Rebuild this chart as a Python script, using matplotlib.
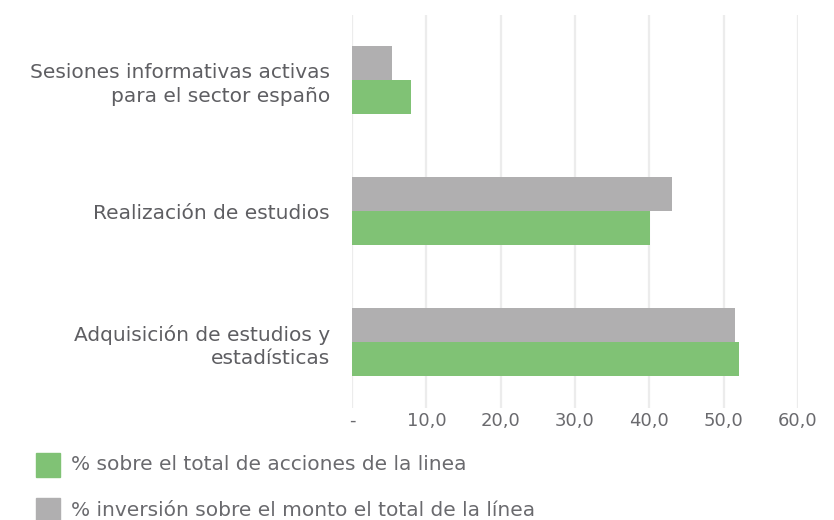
import matplotlib
matplotlib.use("Agg")
import matplotlib.pyplot as plt
import numpy as np
from matplotlib.patches import Rectangle

categories = ["Sesiones informativas activas\npara el sector españo",
              "Realización de estudios",
              "Adquisición de estudios y\nestadísticas"]
inversion = [5.4, 43.0, 51.5]
acciones = [8.0, 40.1, 52.0]
xticks = [0, 10, 20, 30, 40, 50, 60]
xticklabels = ["-", "10,0", "20,0", "30,0", "40,0", "50,0", "60,0"]
legend_labels = ["% sobre el total de acciones de la linea",
                 "% inversión sobre el monto el total de la línea"]

green = "#80c275"
gray = "#b0afb0"
txt = "#5e5e62"

plt.rcParams['font.family'] = ['DejaVu Sans']

fig = plt.figure(figsize=(8.34, 5.2), dpi=100)
L, R = 352/834, 798/834
T, B = 1 - 14.5/520, 1 - 407.5/520
ax = fig.add_axes([L, B, R - L, T - B])

y = np.arange(len(categories))
h = 0.26
ax.barh(y - h/2, inversion, height=h, color=gray, zorder=3)
ax.barh(y + h/2, acciones, height=h, color=green, zorder=3)
ax.set_ylim(2.5, -0.5)
ax.set_xlim(0, 60)
ax.set_xticks(xticks)
ax.set_xticklabels(xticklabels, fontsize=13, color="#6a6a6e")
ax.set_yticks(y)
ax.set_yticklabels(categories, fontsize=14.5, color=txt, linespacing=1.3)
ax.tick_params(length=0, axis='x', pad=3)
ax.tick_params(length=0, axis='y', pad=16)
for s in ax.spines.values():
    s.set_visible(False)
ax.grid(axis='x', color="#ececec", linewidth=1.6, zorder=0)
ax.grid(axis='y', visible=False)

# legend
for i, (lab, col) in enumerate(zip(legend_labels, [green, gray])):
    yc = 465 + i*45
    fig.patches.append(Rectangle((36/834, 1 - (yc + 12)/520), 24/834, 24/520,
                                 transform=fig.transFigure, color=col, figure=fig))
    fig.text(71/834, 1 - yc/520, lab, fontsize=14.5, color="#6a6a6e", va='center', ha='left')

fig.savefig("out.png", dpi=100)
